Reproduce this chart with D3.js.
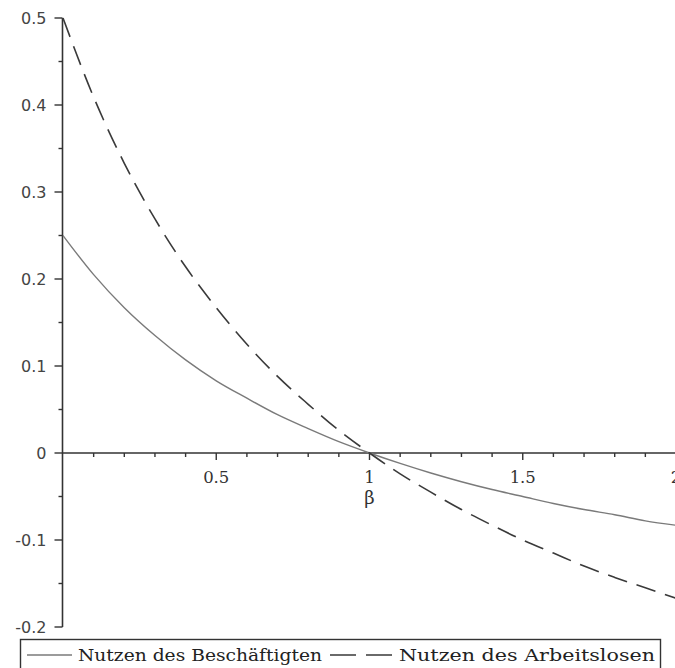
<!DOCTYPE html>
<html>
<head>
<meta charset="utf-8">
<script src="https://cdn.jsdelivr.net/npm/d3@7"></script>
<style>
  body { margin: 0; background: #fff; }
  svg { display: block; }
</style>
</head>
<body>
<svg id="chart" width="675" height="668"></svg>
<script>
// beta values (x) and the two utility curves
const beta = [0, 0.1, 0.2, 0.3, 0.4, 0.5, 0.6, 0.7, 0.8, 0.9, 1.0,
              1.1, 1.2, 1.3, 1.4, 1.5, 1.6, 1.7, 1.8, 1.9, 2.0];
const employed = [0.25, 0.205, 0.167, 0.135, 0.107, 0.083, 0.063, 0.044, 0.028, 0.013, 0,
                  -0.012, -0.023, -0.033, -0.042, -0.05, -0.058, -0.065, -0.071, -0.078, -0.083];
const unemployed = [0.5, 0.409, 0.333, 0.269, 0.214, 0.167, 0.125, 0.088, 0.056, 0.026, 0,
                    -0.024, -0.045, -0.065, -0.083, -0.1, -0.115, -0.13, -0.143, -0.155, -0.167];
const xTicks = [0.5, 1, 1.5, 2];
const xTickLabels = ['0.5', '1', '1.5', '2'];
const yTicks = [0.5, 0.4, 0.3, 0.2, 0.1, 0, -0.1, -0.2];
const yTickLabels = ['0.5', '0.4', '0.3', '0.2', '0.1', '0', '-0.1', '-0.2'];
const seriesNames = ['Nutzen des Beschäftigten', 'Nutzen des Arbeitslosen'];

const AXIS = '#333';
const svg = d3.select('#chart');

const x = d3.scaleLinear().domain([0, 2]).range([63, 676]);
const y = d3.scaleLinear().domain([-0.2, 0.5]).range([627, 18]);

// x axis along y = 0
const xAxis = svg.append('g').attr('transform', `translate(0, ${y(0)})`);
xAxis.append('line')
  .attr('x1', x(0)).attr('x2', 675)
  .attr('stroke', AXIS).attr('stroke-width', 1.6);
xAxis.selectAll('line.minor')
  .data(d3.range(1, 20).map(i => i / 10))
  .join('line').attr('class', 'minor')
  .attr('x1', d => x(d)).attr('x2', d => x(d))
  .attr('y1', 0).attr('y2', d => (Math.abs(d * 2 - Math.round(d * 2)) < 1e-6 ? 7 : 4))
  .attr('stroke', AXIS).attr('stroke-width', 1.4);
xAxis.selectAll('text')
  .data(xTicks)
  .join('text')
  .attr('x', d => x(d)).attr('y', 30)
  .attr('text-anchor', 'middle')
  .attr('font-family', 'DejaVu Serif')
  .attr('font-size', 16.5)
  .attr('fill', AXIS)
  .text((d, i) => xTickLabels[i]);

svg.append('text')
  .attr('x', x(1)).attr('y', 504)
  .attr('text-anchor', 'middle')
  .attr('font-family', 'DejaVu Serif')
  .attr('font-size', 18)
  .attr('fill', AXIS)
  .text('β');

// y axis at beta = 0
const yAxis = svg.append('g').attr('transform', `translate(${x(0) - 0.5}, 0)`);
yAxis.append('line')
  .attr('y1', y(0.5)).attr('y2', y(-0.2))
  .attr('stroke', AXIS).attr('stroke-width', 1.6);
yAxis.selectAll('line.minor')
  .data(d3.range(-4, 11).map(i => i / 20))
  .join('line').attr('class', 'minor')
  .attr('y1', d => y(d)).attr('y2', d => y(d))
  .attr('x1', d => (Math.abs(d * 10 - Math.round(d * 10)) < 1e-6 ? -8 : -4)).attr('x2', 0)
  .attr('stroke', AXIS).attr('stroke-width', 1.4);
yAxis.selectAll('text')
  .data(yTicks)
  .join('text')
  .attr('x', -16).attr('y', d => y(d))
  .attr('dy', '0.36em')
  .attr('text-anchor', 'end')
  .attr('font-family', 'DejaVu Sans')
  .attr('font-size', 16)
  .attr('fill', '#444')
  .text((d, i) => yTickLabels[i]);

// curves
const line = d3.line()
  .x(d => x(d[0]))
  .y(d => y(d[1]))
  .curve(d3.curveMonotoneX);

svg.append('path')
  .datum(beta.map((b, i) => [b, employed[i]]))
  .attr('d', line)
  .attr('fill', 'none')
  .attr('stroke', '#7a7a7a')
  .attr('stroke-width', 1.4);

svg.append('path')
  .datum(beta.map((b, i) => [b, unemployed[i]]))
  .attr('d', line)
  .attr('fill', 'none')
  .attr('stroke', '#3a3a3a')
  .attr('stroke-width', 1.6)
  .attr('stroke-dasharray', '20,10');

// legend
const legend = svg.append('g');
legend.append('rect')
  .attr('x', 20.5).attr('y', 639.5)
  .attr('width', 640).attr('height', 40)
  .attr('fill', 'none').attr('stroke', AXIS).attr('stroke-width', 1.4);

const ly = 655;
legend.append('line')
  .attr('x1', 27).attr('x2', 72).attr('y1', ly).attr('y2', ly)
  .attr('stroke', '#7a7a7a').attr('stroke-width', 1.4);
legend.append('text')
  .attr('x', 78).attr('y', ly).attr('dy', '0.35em')
  .attr('font-family', 'DejaVu Serif').attr('font-size', 17)
  .attr('fill', '#222')
  .attr('textLength', 244).attr('lengthAdjust', 'spacingAndGlyphs')
  .text(seriesNames[0]);
legend.append('line')
  .attr('x1', 330).attr('x2', 392).attr('y1', ly).attr('y2', ly)
  .attr('stroke', '#3a3a3a').attr('stroke-width', 1.6)
  .attr('stroke-dasharray', '26,10');
legend.append('text')
  .attr('x', 399).attr('y', ly).attr('dy', '0.35em')
  .attr('font-family', 'DejaVu Serif').attr('font-size', 17)
  .attr('fill', '#222')
  .attr('textLength', 256).attr('lengthAdjust', 'spacingAndGlyphs')
  .text(seriesNames[1]);
</script>
</body>
</html>
